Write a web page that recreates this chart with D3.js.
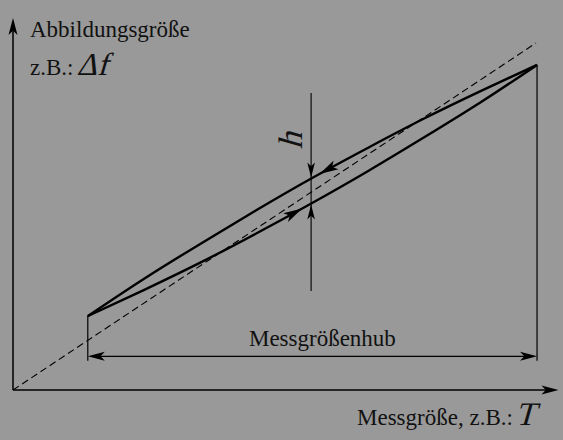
<!DOCTYPE html>
<html>
<head>
<meta charset="utf-8">
<script src="https://cdn.jsdelivr.net/npm/d3@7"></script>
<style>
html,body{margin:0;padding:0;background:#999999;}
svg{display:block;}
</style>
</head>
<body>
<svg id="chart" width="563" height="440"></svg>
<script>
// ---- data (abstract units: ideal characteristic y = x from 0 to 100) ----
const xValues      = [14.3, 25, 35.8, 46.5, 57.2, 68, 78.7, 89.5, 100.2];
const upperBranch  = [21.3, 32.0, 42.1, 51.8, 61.1, 69.9, 78.3, 86.2, 93.7]; // decreasing direction
const lowerBranch  = [21.3, 28.8, 36.7, 45.1, 53.9, 63.2, 72.9, 83.0, 93.7]; // increasing direction
const idealLine    = [[0, 0], [100, 100]];
const rangeStart   = 14.3;   // Messgrößenhub start
const rangeEnd     = 100.2;  // Messgrößenhub end
const rangeArrowY  = 9.7;
const rangeLineBottom = 8.4;
const hX           = 57.0;   // position of hysteresis marker h
const hLineExtent  = [28.5, 85.6];
const upperArrowX  = 58.6;
const lowerArrowX  = 55.3;
const axisXEnd     = 104.3;
const axisYEnd     = 107.2;

const labels = {
  yTitle: "Abbildungsgröße",
  yExample: "z.B.:",
  yExampleSym: "Δf",
  xTitle: "Messgröße, z.B.:",
  xTitleSym: "T",
  range: "Messgrößenhub",
  h: "h"
};

const FONT = "'Liberation Serif', 'Times New Roman', serif";

// ---- scales ----
const x = d3.scaleLinear().domain([0, 100]).range([13, 536]);
const y = d3.scaleLinear().domain([0, 100]).range([390, 43]);

const svg = d3.select("#chart");
svg.append("rect").attr("width", 563).attr("height", 440).attr("fill", "#999999");

function arrowHead(g, tip, angle, len, hw) {
  const cx = Math.cos(angle), sy = Math.sin(angle);
  const bx = tip[0] - cx * len, by = tip[1] - sy * len;
  const nx = -sy, ny = cx;
  const back = 0.25 * len;
  const p = [
    [tip[0], tip[1]],
    [bx + nx * hw, by + ny * hw],
    [tip[0] - cx * (len - back), tip[1] - sy * (len - back)],
    [bx - nx * hw, by - ny * hw]
  ];
  g.append("path").attr("d", "M" + p.map(d => d.join(",")).join("L") + "Z")
    .attr("fill", "#000").attr("stroke", "none");
}

const g = svg.append("g");

// axes
g.append("line").attr("x1", x(0)).attr("y1", y(0)).attr("x2", x(axisXEnd) - 8).attr("y2", y(0))
  .attr("stroke", "#000").attr("stroke-width", 1.5);
g.append("line").attr("x1", x(0)).attr("y1", y(0)).attr("x2", x(0)).attr("y2", y(axisYEnd) + 8)
  .attr("stroke", "#000").attr("stroke-width", 1.5);
arrowHead(g, [x(axisXEnd), y(0)], 0, 17, 4.5);
arrowHead(g, [x(0), y(axisYEnd)], -Math.PI / 2, 17, 4.5);

// ideal dashed line
g.append("line")
  .attr("x1", x(idealLine[0][0])).attr("y1", y(idealLine[0][1]))
  .attr("x2", x(idealLine[1][0])).attr("y2", y(idealLine[1][1]))
  .attr("stroke", "#000").attr("stroke-width", 1.1).attr("stroke-dasharray", "7,4");

// range vertical lines
g.append("line").attr("x1", x(rangeStart)).attr("x2", x(rangeStart))
  .attr("y1", y(lowerBranch[0])).attr("y2", y(rangeLineBottom))
  .attr("stroke", "#000").attr("stroke-width", 1.2);
g.append("line").attr("x1", x(rangeEnd)).attr("x2", x(rangeEnd))
  .attr("y1", y(lowerBranch[lowerBranch.length - 1])).attr("y2", y(rangeLineBottom))
  .attr("stroke", "#000").attr("stroke-width", 1.2);

// range arrow
g.append("line").attr("x1", x(rangeStart) + 10).attr("x2", x(rangeEnd) - 10)
  .attr("y1", y(rangeArrowY)).attr("y2", y(rangeArrowY))
  .attr("stroke", "#000").attr("stroke-width", 1.4);
arrowHead(g, [x(rangeStart), y(rangeArrowY)], Math.PI, 17, 4.5);
arrowHead(g, [x(rangeEnd), y(rangeArrowY)], 0, 17, 4.5);

// hysteresis branches
const line = d3.line().x(d => x(d[0])).y(d => y(d[1])).curve(d3.curveNatural);
const upperPts = xValues.map((v, i) => [v, upperBranch[i]]);
const lowerPts = xValues.map((v, i) => [v, lowerBranch[i]]);
const upPath = g.append("path").attr("d", line(upperPts)).attr("fill", "none")
  .attr("stroke", "#000").attr("stroke-width", 2.4);
const loPath = g.append("path").attr("d", line(lowerPts)).attr("fill", "none")
  .attr("stroke", "#000").attr("stroke-width", 2.4);

function pointAtX(pathSel, px) {
  const node = pathSel.node();
  const L = node.getTotalLength();
  let lo = 0, hi = L;
  for (let i = 0; i < 40; i++) {
    const mid = (lo + hi) / 2;
    if (node.getPointAtLength(mid).x < px) lo = mid; else hi = mid;
  }
  const p = node.getPointAtLength(lo);
  const q = node.getPointAtLength(Math.min(L, lo + 2));
  return { p: [p.x, p.y], ang: Math.atan2(q.y - p.y, q.x - p.x) };
}
const ua = pointAtX(upPath, x(upperArrowX));
arrowHead(g, ua.p, ua.ang + Math.PI, 19, 5);
const la = pointAtX(loPath, x(lowerArrowX));
arrowHead(g, la.p, la.ang, 19, 5);

// h marker
const hu = pointAtX(upPath, x(hX));
const hl = pointAtX(loPath, x(hX));
g.append("line").attr("x1", x(hX)).attr("x2", x(hX))
  .attr("y1", y(hLineExtent[1])).attr("y2", y(hLineExtent[0]))
  .attr("stroke", "#000").attr("stroke-width", 1.1);
arrowHead(g, [x(hX), hu.p[1] - 1], Math.PI / 2, 15, 3.8);
arrowHead(g, [x(hX), hl.p[1] + 1], -Math.PI / 2, 15, 3.8);

// math-style (slanted serif) symbols
function slanted(parent, tx, ty, rot, size, str, anchor) {
  return parent.append("text")
    .attr("transform", `translate(${tx},${ty}) rotate(${rot}) skewX(-16)`)
    .attr("text-anchor", anchor || "start")
    .attr("font-family", FONT).attr("fill", "#111").attr("font-size", size)
    .text(str);
}
slanted(g, x(hX) - 9, y(hLineExtent[1]) + 48, -90, 34, labels.h, "middle");

// texts
svg.append("text").attr("x", 30).attr("y", 37).attr("font-family", FONT).attr("fill", "#111")
  .attr("font-size", 23).text(labels.yTitle);
const t2 = svg.append("text").attr("x", 30).attr("y", 75).attr("font-family", FONT).attr("fill", "#111")
  .attr("font-size", 23).text(labels.yExample);
const w2 = t2.node().getComputedTextLength();
slanted(svg, 30 + w2 + 3, 75, 0, 32, labels.yExampleSym);

const t3 = svg.append("text").attr("x", 357).attr("y", 425).attr("font-family", FONT).attr("fill", "#111")
  .attr("font-size", 23).text(labels.xTitle);
const w3 = t3.node().getComputedTextLength();
slanted(svg, 357 + w3 + 2, 425, 0, 33, labels.xTitleSym);

svg.append("text").attr("x", (x(rangeStart) + x(rangeEnd)) / 2 + 10).attr("y", 346)
  .attr("text-anchor", "middle").attr("font-family", FONT).attr("fill", "#111")
  .attr("font-size", 23).text(labels.range);
</script>
</body>
</html>
